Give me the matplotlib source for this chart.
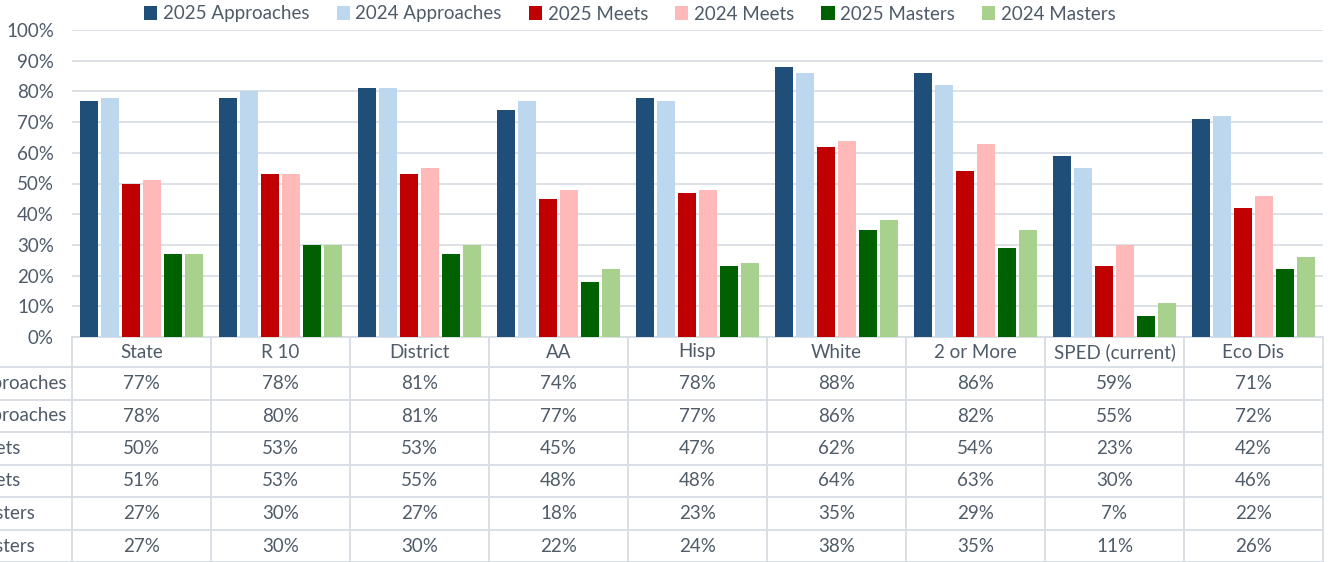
import matplotlib.pyplot as plt
import matplotlib.transforms as mtransforms
import numpy as np

# categorias e series
categories = ['State', 'R 10', 'District', 'AA', 'Hisp', 'White', '2 or More', 'SPED (current)', 'Eco Dis']
series_names = ['2025 Approaches', '2024 Approaches', '2025 Meets', '2024 Meets', '2025 Masters', '2024 Masters']
approaches_2025 = [77, 78, 81, 74, 78, 88, 86, 59, 71]
approaches_2024 = [78, 80, 81, 77, 77, 86, 82, 55, 72]
meets_2025 = [50, 53, 53, 45, 47, 62, 54, 23, 42]
meets_2024 = [51, 53, 55, 48, 48, 64, 63, 30, 46]
masters_2025 = [27, 30, 27, 18, 23, 35, 29, 7, 22]
masters_2024 = [27, 30, 30, 22, 24, 38, 35, 11, 26]
yticks = [0, 10, 20, 30, 40, 50, 60, 70, 80, 90, 100]

series = [approaches_2025, approaches_2024, meets_2025, meets_2024, masters_2025, masters_2024]
colors = ['#1F4E79', '#BDD7EE', '#C00000', '#FFB9B9', '#006100', '#A9D18E']

plt.rcParams['font.family'] = ['Lato', 'DejaVu Sans']
txt = '#4F5B69'
gridc = '#D9DEE5'
fs = 13.5

W, H = 1331, 562
fig = plt.figure(figsize=(W / 100, H / 100), dpi=100)
ax = fig.add_axes([72 / W, 1 - 337 / H, (1323 - 72) / W, (337 - 30) / H])

x = np.arange(len(categories))
step = 0.151
width = 0.13
for i, (vals, name, c) in enumerate(zip(series, series_names, colors)):
    ax.bar(x + (i - 2.5) * step, vals, width, color=c, label=name, zorder=3)

ax.set_xlim(-0.5, len(categories) - 0.5)
ax.set_ylim(0, 100)
ax.set_yticks(yticks)
ax.set_yticklabels([f'{t}%' for t in yticks], color=txt, fontsize=fs)
ax.set_xticks([])
ax.tick_params(axis='y', length=0, pad=13)
ax.grid(axis='y', color=gridc, linewidth=1.3, zorder=0)
for s in ax.spines.values():
    s.set_visible(False)

fig.legend(loc='center', bbox_to_anchor=(630 / W, 1 - 14 / H), ncol=6, frameon=False,
           fontsize=fs, handlelength=0.7, handleheight=0.7, handletextpad=0.3,
           columnspacing=1.45, labelcolor=txt)

# tabela de dados embaixo
tr = mtransforms.blended_transform_factory(ax.transData, fig.transFigure)
row_edges = [337, 367, 400, 432, 465, 497, 530, 562]

def fy(p):
    return 1 - p / H

for k in range(len(categories) + 1):
    ax.plot([k - 0.5, k - 0.5], [fy(337), fy(562)], color=gridc, lw=1.4,
            transform=tr, clip_on=False)
for j, yp in enumerate(row_edges):
    x0 = -0.5 if j == 0 else -2
    ax.plot([x0, len(categories) - 0.5], [fy(yp), fy(yp)], color=gridc, lw=1.4,
            transform=tr, clip_on=False)

for k, cat in enumerate(categories):
    ax.text(k, fy(352), cat, ha='center', va='center', color=txt, fontsize=fs,
            transform=tr)
for r, vals in enumerate(series):
    yc = fy((row_edges[r + 1] + row_edges[r + 2]) / 2)
    fig.text(-80 / W, yc, series_names[r], ha='left', va='center', color=txt, fontsize=fs)
    for k, v in enumerate(vals):
        ax.text(k, yc, f'{v}%', ha='center', va='center', color=txt, fontsize=fs,
                transform=tr)

fig.savefig('out.png', dpi=100, facecolor='white')
